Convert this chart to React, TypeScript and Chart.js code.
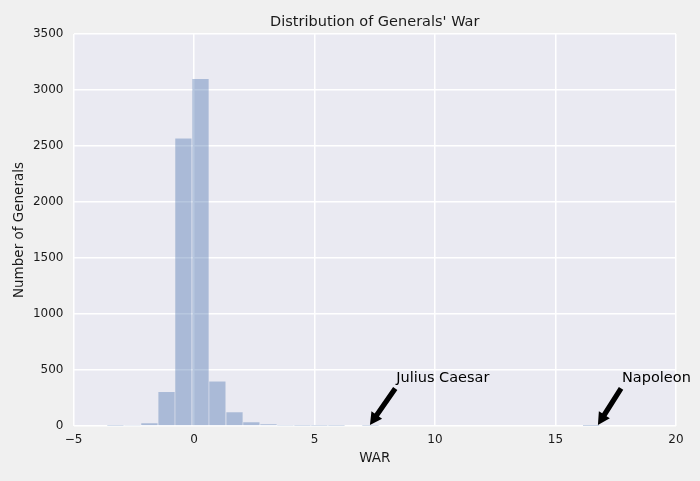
import React, { useEffect, useRef } from 'react';
import { Chart, registerables } from 'chart.js';

Chart.register(...registerables);

// histogram bins (centre of each WAR bin) and number of generals per bin
const binCenters = [
  -3.26, -2.55, -1.85, -1.14, -0.44, 0.27, 0.97, 1.68, 2.38, 3.09,
  3.79, 4.5, 5.2, 5.91, 6.61, 7.32, 8.02, 8.73, 9.43, 10.14,
  10.84, 11.55, 12.25, 12.96, 13.66, 14.37, 15.07, 15.78, 16.48,
];
const generalCounts = [
  3, 6, 27, 305, 2570, 3100, 400, 125, 35, 18,
  5, 3, 2, 2, 0, 2, 0, 0, 0, 0,
  0, 0, 0, 0, 0, 0, 0, 0, 1,
];

// annotations
const noteLabels = ['Julius Caesar', 'Napoleon'];
const noteTextX = [8.39, 17.76];
const noteTextY = [390, 390];
const arrowTipX = [7.3, 16.76];
const arrowTipY = [10, 10];
const arrowTailX = [8.35, 17.72];
const arrowTailY = [335, 335];

const FONT = 'DejaVu Sans';
const TEXT = '#1a1a1a';

const plotBackground = {
  id: 'plotBackground',
  beforeDraw(chart: any) {
    const { ctx, chartArea } = chart;
    ctx.save();
    ctx.fillStyle = '#EAEAF2';
    ctx.fillRect(chartArea.left, chartArea.top, chartArea.right - chartArea.left, chartArea.bottom - chartArea.top);
    ctx.restore();
  },
};

const arrowNotes = {
  id: 'arrowNotes',
  afterDatasetsDraw(chart: any) {
    const { ctx, scales } = chart;
    const xs = scales.x;
    const ys = scales.y;
    ctx.save();
    noteLabels.forEach((label, i) => {
      const x0 = xs.getPixelForValue(arrowTailX[i]);
      const y0 = ys.getPixelForValue(arrowTailY[i]);
      const x1 = xs.getPixelForValue(arrowTipX[i]);
      const y1 = ys.getPixelForValue(arrowTipY[i]);
      const len = Math.hypot(x1 - x0, y1 - y0);
      const ux = (x1 - x0) / len;
      const uy = (y1 - y0) / len;
      const px = -uy;
      const py = ux;
      const shaft = 2.6;
      const head = 6.5;
      const headLen = 12;
      const bx = x1 - ux * headLen;
      const by = y1 - uy * headLen;
      ctx.beginPath();
      ctx.moveTo(x0 + px * shaft, y0 + py * shaft);
      ctx.lineTo(bx + px * shaft, by + py * shaft);
      ctx.lineTo(bx + px * head, by + py * head);
      ctx.lineTo(x1, y1);
      ctx.lineTo(bx - px * head, by - py * head);
      ctx.lineTo(bx - px * shaft, by - py * shaft);
      ctx.lineTo(x0 - px * shaft, y0 - py * shaft);
      ctx.closePath();
      ctx.fillStyle = '#000';
      ctx.fill();

      ctx.font = `14.5px "${FONT}"`;
      ctx.textAlign = 'left';
      ctx.textBaseline = 'alphabetic';
      ctx.fillStyle = '#000';
      ctx.fillText(label, xs.getPixelForValue(noteTextX[i]), ys.getPixelForValue(noteTextY[i]));
    });
    ctx.restore();
  },
};

const App: React.FC = () => {
  const canvasRef = useRef<HTMLCanvasElement>(null);

  useEffect(() => {
    document.body.style.margin = '0';
    document.body.style.background = '#F0F0F0';
    if (!canvasRef.current) return;

    const chart = new Chart(canvasRef.current, {
      type: 'bar',
      data: {
        datasets: [
          {
            data: binCenters.map((x, i) => ({ x, y: generalCounts[i] })),
            backgroundColor: 'rgba(76, 114, 176, 0.4)',
            borderColor: 'rgba(255, 255, 255, 0.12)',
            borderWidth: 0.6,
            barPercentage: 1,
            categoryPercentage: 1,
          },
        ],
      },
      options: {
        animation: false,
        responsive: true,
        maintainAspectRatio: false,
        layout: { padding: { left: 0, right: 24, top: 0, bottom: 0 } },
        plugins: {
          legend: { display: false },
          tooltip: { enabled: false },
          title: {
            display: true,
            text: "Distribution of Generals' War",
            fullSize: false,
            color: TEXT,
            font: { family: FONT, size: 14.5, weight: 'normal' },
            padding: { top: 13.5, bottom: 3.1 },
          },
        },
        scales: {
          x: {
            type: 'linear',
            min: -5,
            max: 20,
            offset: false,
            border: { display: false },
            grid: { color: '#ffffff', lineWidth: 1.5, drawTicks: false, offset: false },
            ticks: {
              stepSize: 5,
              padding: 7,
              color: TEXT,
              font: { family: FONT, size: 12 },
              callback: (v: any) => String(v).replace('-', '\u2212'),
            },
            title: {
              display: true,
              text: 'WAR',
              color: TEXT,
              font: { family: FONT, size: 13.5 },
              padding: { top: 0, bottom: 14.2 },
            },
            afterFit: (scale: any) => {
              scale.height = 55;
            },
          },
          y: {
            min: 0,
            max: 3500,
            border: { display: false },
            grid: { color: '#ffffff', lineWidth: 1.5, drawTicks: false },
            ticks: {
              stepSize: 500,
              padding: 10,
              color: TEXT,
              font: { family: FONT, size: 12 },
              callback: (v: any) => String(v),
            },
            title: {
              display: true,
              text: 'Number of Generals',
              color: TEXT,
              font: { family: FONT, size: 13.5 },
              padding: { top: 10.9, bottom: 0 },
            },
            afterFit: (scale: any) => {
              scale.width = 73.5;
            },
          },
        },
      },
      plugins: [plotBackground, arrowNotes],
    });

    return () => chart.destroy();
  }, []);

  return (
    <div style={{ width: 700, height: 481, background: '#F0F0F0', position: 'relative' }}>
      <canvas ref={canvasRef}></canvas>
    </div>
  );
};

export default App;
